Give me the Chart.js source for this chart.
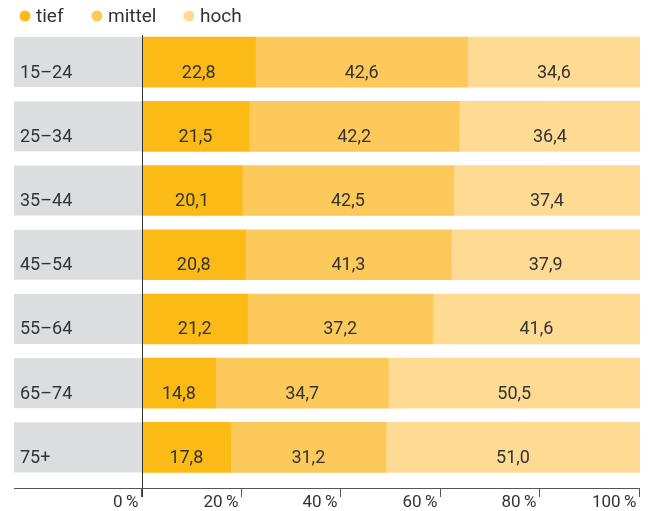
<!DOCTYPE html>
<html>
<head>
<meta charset="utf-8">
<script src="https://cdn.jsdelivr.net/npm/chart.js@4"></script>
<style>
  html, body { margin: 0; padding: 0; background: #fff; }
  #wrap { width: 650px; height: 511px; position: relative; }
</style>
</head>
<body>
<div id="wrap"><canvas id="chart"></canvas></div>
<script>
// Age groups and shares (%) per level
const categories = ['15–24', '25–34', '35–44', '45–54', '55–64', '65–74', '75+'];
const tief   = [22.8, 21.5, 20.1, 20.8, 21.2, 14.8, 17.8];
const mittel = [42.6, 42.2, 42.5, 41.3, 37.2, 34.7, 31.2];
const hoch   = [34.6, 36.4, 37.4, 37.9, 41.6, 50.5, 51.0];
const seriesNames = ['tief', 'mittel', 'hoch'];
const xTicks = [0, 20, 40, 60, 80, 100];

const colors = ['#FBBA16', '#FDC95A', '#FEDA92'];
const textColor = '#333333';
const fontFamily = 'Roboto, "DejaVu Sans", sans-serif';

const fmt = v => v.toFixed(1).replace('.', ',');

const decor = {
    id: 'decor',
    beforeDatasetsDraw(chart) {
        const { ctx: c, chartArea: area } = chart;
        const meta = chart.getDatasetMeta(0);
        c.save();
        c.fillStyle = '#DCDDDF';
        meta.data.forEach(bar => {
            c.fillRect(14, bar.y - bar.height / 2, area.left - 14, bar.height);
        });
        c.restore();
    },
    afterDatasetsDraw(chart) {
        const { ctx: c, chartArea: area } = chart;
        const xs = chart.scales.x;
        const meta0 = chart.getDatasetMeta(0);
        const axisY = 488;
        c.save();

        // value labels
        c.fillStyle = textColor;
        c.font = `18px ${fontFamily}`;
        c.textAlign = 'center';
        c.textBaseline = 'middle';
        chart.data.datasets.forEach((ds, di) => {
            chart.getDatasetMeta(di).data.forEach((bar, i) => {
                const cx = (bar.x + bar.base) / 2;
                c.fillText(fmt(ds.data[i]), cx, bar.y + 11);
            });
        });

        // category labels
        c.textAlign = 'left';
        meta0.data.forEach((bar, i) => {
            c.fillText(categories[i], 20, bar.y + 11);
        });

        // zero line
        c.strokeStyle = '#333';
        c.lineWidth = 1;
        const x0 = Math.round(xs.getPixelForValue(0)) + 0.5;
        c.beginPath(); c.moveTo(x0, 35); c.lineTo(x0, axisY + 9); c.stroke();

        // x axis
        c.strokeStyle = '#555';
        c.beginPath(); c.moveTo(14, axisY + 0.5); c.lineTo(area.right, axisY + 0.5); c.stroke();
        c.textAlign = 'right';
        c.textBaseline = 'alphabetic';
        c.font = `17px ${fontFamily}`;
        xTicks.forEach(t => {
            const x = Math.round(xs.getPixelForValue(t)) - 0.5;
            c.beginPath(); c.moveTo(x, axisY); c.lineTo(x, axisY + 9); c.stroke();
            c.fillText(t + '\u2009%', x - 3, 507);
        });

        // legend
        c.font = `19px ${fontFamily}`;
        c.textAlign = 'left';
        c.textBaseline = 'middle';
        const legendX = [25, 97, 189];
        seriesNames.forEach((name, i) => {
            c.fillStyle = colors[i];
            c.beginPath(); c.arc(legendX[i], 16, 5.5, 0, Math.PI * 2); c.fill();
            c.fillStyle = textColor;
            c.fillText(name, legendX[i] + 11, 17);
        });
        c.restore();
    }
};

new Chart(document.getElementById('chart'), {
    type: 'bar',
    data: {
        labels: categories,
        datasets: [
            { label: seriesNames[0], data: tief, backgroundColor: colors[0] },
            { label: seriesNames[1], data: mittel, backgroundColor: colors[1] },
            { label: seriesNames[2], data: hoch, backgroundColor: colors[2] }
        ]
    },
    options: {
        indexAxis: 'y',
        responsive: true,
        maintainAspectRatio: false,
        animation: false,
        layout: { padding: { left: 142, right: 10, top: 30, bottom: 31.5 } },
        datasets: { bar: { barThickness: 50, borderWidth: 0 } },
        scales: {
            x: { stacked: true, min: 0, max: 100, display: false },
            y: { stacked: true, display: false }
        },
        plugins: { legend: { display: false }, tooltip: { enabled: false } }
    },
    plugins: [decor]
});
</script>
</body>
</html>
